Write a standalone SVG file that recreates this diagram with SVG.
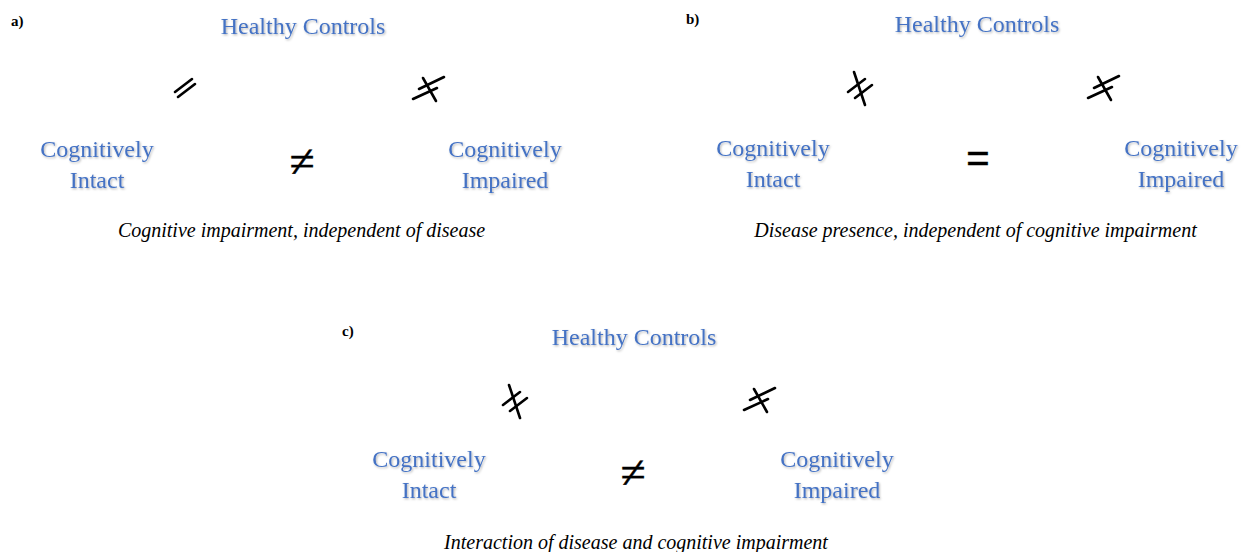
<svg xmlns="http://www.w3.org/2000/svg" width="1244" height="552" viewBox="0 0 1244 552">
<defs>
<filter id="sh" x="-10%" y="-30%" width="120%" height="160%">
<feDropShadow dx="1" dy="1.2" stdDeviation="0.9" flood-color="#000" flood-opacity="0.3"/>
</filter>
</defs>
<style>
.lbl{font-family:"Liberation Serif","Times New Roman",serif;font-size:15px;font-weight:bold;fill:#000}
.blue{font-family:"Liberation Serif","Times New Roman",serif;font-size:24px;fill:#4472C4;text-anchor:middle;filter:url(#sh)}
.cap{font-family:"Liberation Serif","Times New Roman",serif;font-size:20px;font-style:italic;fill:#000;text-anchor:middle}
.sym{font-family:"Liberation Serif","Times New Roman",serif;font-size:46px;fill:#000;text-anchor:middle;stroke:#000;stroke-width:0.4}
.eq{font-family:"Liberation Sans",Arial,sans-serif;font-size:40px;fill:#000;text-anchor:middle;stroke:#000;stroke-width:0.5}
.st{stroke:#000;stroke-width:2.6;stroke-linecap:round;fill:none}
</style>
<rect width="1244" height="552" fill="#fff"/>

<!-- Panel a -->
<g id="panel-a">
<text class="lbl" x="11" y="26">a)</text>
<g id="a-healthy"><text class="blue" x="303" y="34">Healthy Controls</text></g>
<g id="a-intact"><text class="blue" x="97" y="157">Cognitively</text><text class="blue" x="97" y="188">Intact</text></g>
<g id="a-impaired"><text class="blue" x="505" y="157">Cognitively</text><text class="blue" x="505" y="188">Impaired</text></g>
<g id="a-connectors">
<g id="a-eq-left" class="st"><line x1="175" y1="92" x2="192" y2="79"/><line x1="178" y1="97" x2="195" y2="84"/></g>
<g id="a-neq-right" class="st"><line x1="419" y1="89" x2="444" y2="77"/><line x1="413" y1="99" x2="437" y2="88"/><line x1="423" y1="78" x2="436" y2="101"/></g>
<text class="sym" x="302" y="177">≠</text>
</g>
<text class="cap" x="301.5" y="237">Cognitive impairment, independent of disease</text>
</g>

<!-- Panel b -->
<g id="panel-b">
<text class="lbl" x="686" y="24">b)</text>
<g id="b-healthy"><text class="blue" x="977" y="32">Healthy Controls</text></g>
<g id="b-intact"><text class="blue" x="773" y="156">Cognitively</text><text class="blue" x="773" y="187">Intact</text></g>
<g id="b-impaired"><text class="blue" x="1181" y="156">Cognitively</text><text class="blue" x="1181" y="187">Impaired</text></g>
<g id="b-connectors">
<g id="b-neq-left" class="st"><line x1="848" y1="92" x2="865" y2="79"/><line x1="855" y1="98" x2="872" y2="85"/><line x1="854" y1="72" x2="865" y2="105"/></g>
<g id="b-neq-right" class="st"><line x1="1094" y1="88" x2="1119" y2="76"/><line x1="1088" y1="98" x2="1112" y2="87"/><line x1="1098" y1="77" x2="1111" y2="100"/></g>
<text class="eq" x="978" y="172">=</text>
</g>
<text class="cap" x="975.5" y="237">Disease presence, independent of cognitive impairment</text>
</g>

<!-- Panel c -->
<g id="panel-c">
<text class="lbl" x="342" y="336">c)</text>
<g id="c-healthy"><text class="blue" x="634" y="345">Healthy Controls</text></g>
<g id="c-intact"><text class="blue" x="429" y="467">Cognitively</text><text class="blue" x="429" y="498">Intact</text></g>
<g id="c-impaired"><text class="blue" x="837" y="467">Cognitively</text><text class="blue" x="837" y="498">Impaired</text></g>
<g id="c-connectors">
<g id="c-neq-left" class="st"><line x1="503" y1="405" x2="520" y2="392"/><line x1="510" y1="411" x2="527" y2="398"/><line x1="509" y1="385" x2="520" y2="418"/></g>
<g id="c-neq-right" class="st"><line x1="750" y1="400" x2="775" y2="388"/><line x1="744" y1="410" x2="768" y2="399"/><line x1="754" y1="389" x2="767" y2="412"/></g>
<text class="sym" x="633" y="488">≠</text>
</g>
<text class="cap" x="636" y="549">Interaction of disease and cognitive impairment</text>
</g>
</svg>
